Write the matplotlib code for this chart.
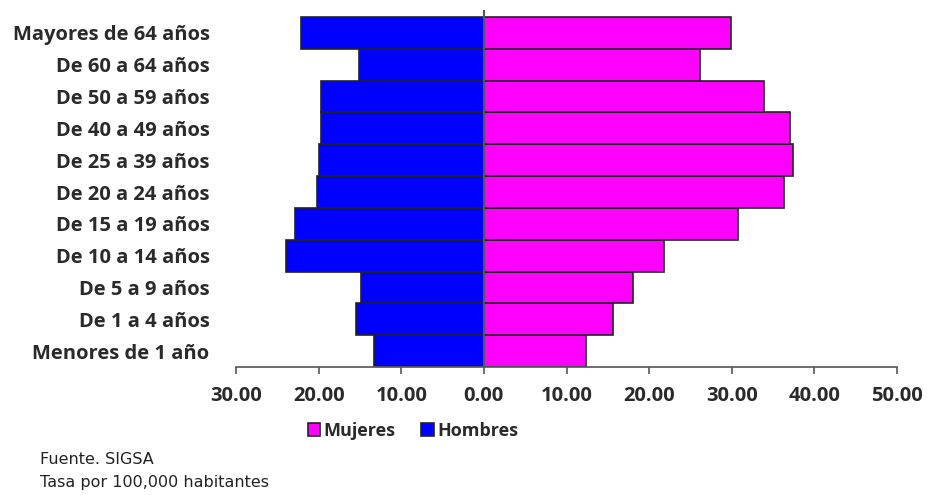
import matplotlib
matplotlib.use('Agg')
from matplotlib import pyplot as plt
from matplotlib.ticker import FuncFormatter

# age groups, bottom to top
grupos = ["Menores de 1 año", "De 1 a 4 años", "De 5 a 9 años", "De 10 a 14 años",
          "De 15 a 19 años", "De 20 a 24 años", "De 25 a 39 años", "De 40 a 49 años",
          "De 50 a 59 años", "De 60 a 64 años", "Mayores de 64 años"]
hombres = [13.3, 15.5, 14.9, 23.9, 22.8, 20.2, 20.0, 19.7, 19.7, 15.1, 22.1]
mujeres = [12.3, 15.6, 18.0, 21.8, 30.8, 36.3, 37.4, 37.0, 33.9, 26.1, 29.9]
ticks = [-30, -20, -10, 0, 10, 20, 30, 40, 50]

bold_font = ['Open Sans', 'DejaVu Sans']

fig = plt.figure(figsize=(9.28, 4.95), dpi=100)
ax = fig.add_axes([236 / 928, 1 - 367 / 495, (897 - 236) / 928, (367 - 10) / 495])

y = list(range(len(grupos)))
ax.barh(y, mujeres, height=1.0, color='#ff00ff', edgecolor='#222222', linewidth=1.2, label='Mujeres')
ax.barh(y, [-v for v in hombres], height=1.0, color='#0000ff', edgecolor='#222222', linewidth=1.2, label='Hombres')
ax.axvline(0, color='#555555', linewidth=1.5, zorder=3)

ax.set_xlim(-30, 50)
ax.set_ylim(-0.5, len(grupos) - 0.5 + 0.22)
ax.set_xticks(ticks)
ax.xaxis.set_major_formatter(FuncFormatter(lambda v, p: "%.2f" % abs(v)))
ax.set_yticks(y)
ax.set_yticklabels(grupos)

for s in ['top', 'right', 'left']:
    ax.spines[s].set_visible(False)
ax.spines['bottom'].set_color('#555555')
ax.spines['bottom'].set_linewidth(1.2)
ax.tick_params(axis='x', direction='out', length=5, width=1.2, color='#555555', pad=9)
ax.tick_params(axis='y', length=0, pad=19)
for lab in ax.get_xticklabels() + ax.get_yticklabels():
    lab.set_family(bold_font)
    lab.set_fontweight('bold')
    lab.set_fontsize(14.5)
    lab.set_color('#2a2a2a')

fig.legend(loc='center', bbox_to_anchor=(413 / 928, 1 - 431 / 495), ncol=2, frameon=False,
           prop={'family': bold_font, 'weight': 'bold', 'size': 13},
           handlelength=0.7, handleheight=0.7, handletextpad=0.2, columnspacing=1.4,
           labelcolor='#2a2a2a')

fig.text(40 / 928, 1 - 459 / 495, "Fuente. SIGSA", family='DejaVu Sans',
         fontsize=11.5, va='center', color='#222222')
fig.text(40 / 928, 1 - 482 / 495, "Tasa por 100,000 habitantes", family='DejaVu Sans',
         fontsize=11.5, va='center', color='#222222')

fig.savefig('out.png', dpi=100)
